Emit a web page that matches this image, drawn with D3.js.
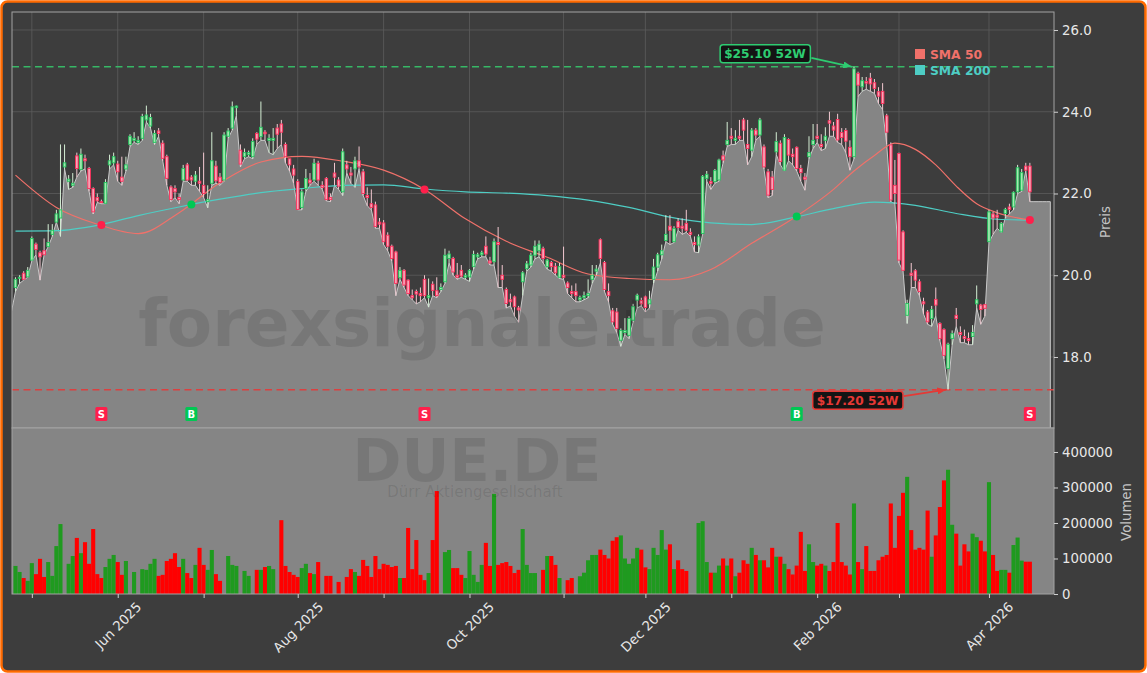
<!DOCTYPE html>
<html>
<head>
<meta charset="utf-8">
<script src="https://cdn.jsdelivr.net/npm/d3@7"></script>
<style>
  body { margin: 0; background: #fff; }
  svg { display: block; font-family: "DejaVu Sans", sans-serif; }
</style>
</head>
<body>
<svg id="chart" width="1147" height="673"></svg>
<script>
// ---- daily candles (trading days from 25 Apr 2025) ----
var opens = [19.70,19.93,20.05,19.96,20.37,20.76,20.55,20.60,20.70,21.00,
  21.30,21.40,22.65,22.30,22.20,22.92,22.59,22.85,22.61,22.12,
  21.90,21.80,21.76,22.70,22.75,22.72,22.40,22.60,23.20,23.30,
  23.25,23.35,23.80,23.65,23.25,23.53,23.23,22.90,22.16,22.12,
  21.90,22.33,22.70,22.40,22.30,22.30,22.20,21.80,22.25,22.67,
  22.40,22.33,23.40,23.60,24.10,23.06,22.90,22.95,22.90,23.47,
  23.39,23.50,23.30,23.30,23.60,23.70,23.20,22.85,22.60,22.29,
  21.66,22.12,22.33,22.33,22.74,22.20,22.37,21.90,22.50,22.33,
  22.04,22.70,22.50,22.60,22.80,22.53,21.95,21.75,21.72,21.30,
  21.28,20.98,20.71,20.57,19.94,20.12,19.88,19.50,19.60,19.55,
  19.90,19.45,19.78,19.62,19.65,19.84,20.41,20.41,20.00,20.12,
  19.95,19.96,20.21,20.45,20.50,20.71,20.35,20.33,20.80,20.00,
  19.65,19.40,19.47,19.20,19.84,20.16,20.25,20.49,20.60,20.65,
  20.21,20.31,20.22,19.95,20.00,19.81,19.60,19.60,19.40,19.45,
  19.50,19.90,20.10,20.87,20.31,19.60,19.13,19.10,18.41,18.60,
  18.53,18.90,19.39,19.38,19.47,19.30,19.90,20.20,20.50,20.85,
  21.20,20.82,21.31,21.20,21.27,21.05,20.80,20.74,21.02,22.37,
  22.29,22.29,22.33,22.92,23.20,23.40,23.30,23.40,23.80,23.20,
  23.06,23.55,23.43,23.14,22.53,22.40,23.02,23.23,22.57,23.32,
  22.96,23.13,22.61,22.40,22.90,23.20,23.40,23.20,23.30,23.78,
  23.65,23.81,23.49,23.54,23.13,22.90,24.94,24.61,24.74,24.82,
  24.71,24.49,24.50,23.90,23.19,22.20,22.98,21.06,19.02,20.05,
  20.11,19.84,19.35,19.10,18.94,19.41,18.82,18.67,17.72,18.45,
  19.02,18.60,18.50,18.45,18.50,19.30,19.27,19.28,20.82,21.50,
  21.47,21.06,21.51,21.67,21.67,22.04,22.08,22.67,22.67];

var highs = [19.95,20.00,20.10,20.20,20.95,20.80,20.60,20.90,21.25,21.25,
  21.60,23.20,23.20,22.45,22.50,23.00,23.10,22.95,22.65,22.15,
  22.00,21.85,22.35,22.95,23.00,22.80,22.90,22.90,23.45,23.50,
  23.40,23.95,24.15,23.95,23.55,23.60,23.30,22.95,22.20,22.20,
  22.00,22.70,22.75,22.45,22.55,22.65,23.00,22.20,23.50,22.80,
  22.50,23.50,23.60,24.25,24.15,23.20,23.10,23.05,23.35,23.50,
  24.25,23.55,23.45,23.60,23.70,23.80,23.25,22.85,22.70,22.35,
  22.10,22.60,22.50,22.85,22.80,22.30,22.40,22.00,22.75,22.40,
  23.10,22.80,22.65,22.90,23.15,22.60,22.15,22.10,21.80,21.40,
  21.35,21.05,20.75,20.60,20.20,20.15,19.90,19.65,19.65,19.70,
  20.00,19.92,19.85,19.95,19.80,20.65,20.60,20.45,20.30,20.25,
  20.05,20.15,20.60,20.55,20.60,20.95,20.45,20.90,21.18,20.25,
  19.70,19.55,19.50,19.25,20.10,20.35,20.55,20.85,20.85,20.70,
  20.40,20.35,20.30,20.30,20.70,19.85,19.75,19.80,19.50,19.60,
  19.90,20.25,20.25,20.90,20.35,19.80,19.20,19.20,18.70,18.95,
  19.00,19.30,19.55,19.45,19.50,19.62,20.40,20.55,20.75,21.47,
  21.47,21.20,21.40,21.39,21.60,21.15,20.95,21.00,22.45,22.55,
  22.40,22.60,22.85,23.05,23.75,23.60,23.55,23.80,23.85,23.80,
  23.60,23.60,23.85,23.20,22.60,22.55,23.50,23.30,23.45,23.35,
  23.10,23.15,22.70,22.50,23.40,23.70,23.70,23.45,23.62,24.00,
  23.75,23.95,23.60,23.60,23.30,25.10,24.98,24.85,24.85,24.95,
  24.80,24.60,24.70,23.95,23.25,22.82,23.00,21.10,19.40,20.30,
  20.15,19.90,19.45,19.15,19.25,19.70,18.85,18.70,18.35,18.65,
  19.20,18.75,18.67,18.60,18.78,19.75,19.30,19.30,21.60,21.55,
  21.60,21.30,21.65,21.75,22.05,22.70,22.60,22.75,22.75];

var lows = [19.60,19.80,19.88,19.95,20.35,20.50,19.88,20.50,20.70,20.95,
  21.30,20.95,22.60,22.10,22.15,22.40,22.55,22.60,22.05,21.50,
  21.78,21.75,21.75,22.60,22.70,22.30,22.20,22.55,23.15,23.25,
  23.20,23.30,23.75,23.60,23.20,23.40,22.80,22.20,21.80,21.90,
  21.75,22.30,22.30,22.20,22.20,22.05,21.90,21.65,22.20,22.25,
  22.20,22.30,23.35,23.55,23.90,22.65,22.85,22.90,22.85,23.20,
  23.30,23.30,23.00,22.95,23.10,23.20,22.75,22.55,22.25,21.60,
  21.60,22.05,22.20,22.30,22.20,22.10,21.82,21.80,22.20,22.10,
  21.95,22.50,22.25,22.15,22.60,21.95,21.70,21.60,21.15,21.15,
  20.75,20.60,20.35,19.50,19.90,19.70,19.50,19.40,19.30,19.35,
  19.45,19.22,19.50,19.45,19.60,19.80,20.30,20.00,19.90,19.95,
  19.90,19.85,20.15,20.40,20.45,20.45,20.25,20.25,19.70,19.70,
  19.20,19.25,19.00,18.85,19.50,20.10,20.20,20.40,20.45,20.30,
  20.15,20.10,20.00,19.92,19.90,19.55,19.45,19.35,19.35,19.40,
  19.45,19.80,20.00,20.30,19.60,19.35,18.80,18.60,18.26,18.55,
  18.45,18.85,19.20,19.25,19.10,19.20,19.80,20.10,20.40,20.82,
  20.75,20.80,21.10,21.00,21.05,20.95,20.57,20.55,21.00,22.30,
  22.10,22.25,22.30,22.75,23.15,23.20,23.20,23.30,23.30,22.70,
  22.90,23.30,23.40,22.60,21.90,21.95,22.95,22.70,22.55,22.80,
  22.70,22.55,22.30,22.08,22.85,23.10,23.25,23.05,23.10,23.40,
  23.40,23.25,23.20,23.00,22.57,22.85,24.37,24.50,24.55,24.50,
  24.45,24.20,24.05,23.20,21.80,21.75,20.30,20.10,18.82,19.70,
  19.70,19.50,19.05,18.80,18.75,19.00,18.40,17.95,17.20,18.30,
  18.75,18.35,18.35,18.30,18.30,19.20,18.80,19.00,20.80,21.00,
  21.15,21.05,21.40,21.50,21.60,22.00,22.05,22.55,21.80];

var closes = [19.90,19.95,19.90,20.12,20.90,20.63,20.45,20.50,20.80,21.10,
  21.50,21.60,22.75,22.35,22.25,22.61,22.96,22.80,22.12,21.55,
  21.82,21.78,22.27,22.80,22.90,22.53,22.30,22.70,23.40,23.35,
  23.30,23.88,23.92,23.86,23.47,23.47,22.86,22.37,21.85,22.04,
  21.85,22.61,22.33,22.33,22.45,22.25,22.00,21.85,22.80,22.31,
  22.27,23.43,23.53,24.12,24.14,22.72,23.00,23.00,23.27,23.33,
  23.62,23.46,23.35,23.35,23.45,23.50,22.90,22.70,22.45,21.61,
  22.04,22.37,22.26,22.74,22.33,22.15,21.85,21.85,22.40,22.18,
  23.02,22.60,22.45,22.80,22.65,22.00,21.90,21.66,21.19,21.25,
  20.82,20.71,20.41,19.80,20.12,19.76,19.55,19.45,19.54,19.50,
  19.50,19.50,19.63,19.50,19.70,20.49,20.52,20.08,19.95,19.98,
  20.00,20.12,20.51,20.50,20.55,20.52,20.30,20.82,20.75,19.90,
  19.31,19.35,19.23,19.15,20.06,20.28,20.49,20.71,20.76,20.41,
  20.37,20.21,20.06,20.21,19.95,19.70,19.55,19.50,19.45,19.50,
  19.55,20.00,20.15,20.41,19.65,19.50,18.86,18.70,18.65,18.65,
  18.94,19.23,19.51,19.30,19.21,19.40,20.20,20.50,20.60,21.00,
  21.10,21.14,21.17,21.15,21.10,21.00,20.75,20.94,22.42,22.47,
  22.25,22.56,22.82,22.82,23.30,23.35,23.35,23.35,23.55,23.10,
  23.55,23.43,23.80,22.65,21.96,22.10,23.27,22.78,23.37,22.94,
  22.90,22.61,22.51,22.35,23.00,23.30,23.35,23.15,23.40,23.72,
  23.55,23.31,23.37,23.28,22.90,25.05,24.65,24.76,24.70,24.68,
  24.57,24.38,24.20,23.50,21.84,22.00,20.37,20.12,19.31,20.00,
  19.88,19.60,19.30,18.86,19.16,19.27,18.45,18.04,18.31,18.57,
  18.94,18.55,18.45,18.40,18.60,19.40,19.16,19.19,21.55,21.40,
  21.42,21.27,21.61,21.61,22.03,22.63,22.51,22.57,22.04];

// volume in thousands of shares
var volumeK = [79,62,45,37,87,56,99,48,90,51,
  135,197,0,85,107,158,115,146,85,183,
  56,45,76,99,110,90,54,93,0,62,
  0,70,68,85,99,51,54,93,99,115,
  76,99,59,45,82,130,82,68,124,56,
  37,0,107,82,79,0,65,51,0,68,
  68,76,79,70,0,208,79,62,54,48,
  73,85,59,56,90,0,51,51,0,34,
  0,48,70,62,51,96,79,48,107,70,
  85,82,76,79,45,45,186,70,152,54,
  39,59,152,290,0,118,124,73,73,54,
  45,121,54,34,82,144,79,282,82,87,
  90,79,59,68,183,82,59,59,0,68,
  107,107,82,45,0,39,45,0,50,60,
  95,110,110,125,110,100,150,160,165,100,
  85,100,130,125,75,70,130,110,180,125,
  140,70,95,70,65,0,0,200,205,90,
  60,60,80,100,80,100,50,60,95,85,
  130,110,95,95,75,130,105,105,85,70,
  55,80,175,65,140,90,80,85,80,65,
  90,200,90,80,55,255,90,70,135,65,
  65,95,105,110,255,130,220,285,330,180,
  125,130,125,235,105,165,245,320,350,195,
  170,80,140,120,170,160,150,120,315,110,
  65,68,68,60,138,159,94,91,91];

// grey fill continues a little past the candles on both sides
var areaHead = 19.1;
var areaTail = [21.8, 21.8, 21.8, 21.8, 21.8];

// moving averages, read at sampled days
var sma50Idx  = [0,10,20,30,40,50,60,70,80,90,100,110,120,130,140,150,160,170,180,190,200,205,210,215,220,225,230,235,240,248];
var sma50Vals = [22.45,21.66,21.25,21.02,21.53,22.26,22.77,22.91,22.79,22.57,22.10,21.38,20.83,20.44,20.03,19.92,19.89,20.14,20.78,21.38,22.10,22.55,22.93,23.23,23.08,22.70,22.18,21.75,21.53,21.35];
var sma200Idx  = [0,10,20,30,40,50,60,70,80,90,100,110,120,130,140,150,160,170,180,190,200,210,220,230,240,248];
var sma200Vals = [21.08,21.09,21.22,21.46,21.67,21.86,22.02,22.12,22.20,22.21,22.11,22.04,22.01,21.95,21.84,21.66,21.42,21.28,21.24,21.41,21.63,21.79,21.71,21.51,21.37,21.35];

// crossover signals
var sigIdx   = [21, 43, 100, 191, 248];
var sigType  = ["S", "B", "S", "B", "S"];
var sigPrice = [21.23, 21.73, 22.10, 21.44, 21.35];

var high52 = 25.10, high52Idx = 205;
var low52 = 17.20, low52Idx = 228;

var priceTicks = [18, 20, 22, 24, 26];
var volTicks = [0, 100000, 200000, 300000, 400000];
// weekdays with no row in the data
var noData = ["2025-05-01","2025-09-15","2025-12-25","2025-12-26","2026-01-01","2026-04-03","2026-04-06"];

// ---- layout ----
var W = 1147, H = 673;
var plot = {left: 12, right: 1054, top: 12, mid: 428, bottom: 594};
var bg = "#3d3d3d", grey = "#858585", spine = "#a3a3a3", tickCol = "#e8e8e8";
var c50 = "#f0716a", c200 = "#4ecdc4", upCol = "#22c55e", dnCol = "#ff2d5a";

// trading calendar for the axis
var dates = [];
var day = new Date(Date.UTC(2025, 3, 25));
while (dates.length < closes.length) {
  var wd = day.getUTCDay(), key = day.toISOString().slice(0, 10);
  if (wd > 0 && wd < 6 && noData.indexOf(key) < 0) dates.push(new Date(day));
  day.setUTCDate(day.getUTCDate() + 1);
}
var monthIdx = [];
dates.forEach(function(d, i) {
  if (i > 0 && d.getUTCMonth() != dates[i - 1].getUTCMonth()) monthIdx.push(i);
});

var candles = closes.map(function(c, i) {
  return {i: i, o: opens[i], h: highs[i], l: lows[i], c: c, v: volumeK[i] * 1000};
});

var svg = d3.select("#chart");

svg.append("rect")
    .attr("x", 1.5).attr("y", 1.5)
    .attr("width", W - 3).attr("height", H - 3)
    .attr("rx", 6)
    .attr("fill", bg)
    .attr("stroke", "#ff6a00")
    .attr("stroke-width", 2.5);

var x = d3.scaleLinear().domain([-0.85, 253.9]).range([plot.left, plot.right]);
var y = d3.scaleLinear().domain([16.263, 26.44]).range([plot.mid, plot.top]);
var yv = d3.scaleLinear().domain([0, 467600]).range([plot.bottom, plot.mid]);
var step = x(1) - x(0);

var defs = svg.append("defs");
defs.append("clipPath").attr("id", "clipPrice")
  .append("rect")
    .attr("x", plot.left).attr("y", plot.top)
    .attr("width", plot.right - plot.left).attr("height", plot.mid - plot.top);

function arrow(id, col) {
  defs.append("marker")
      .attr("id", id)
      .attr("viewBox", "0 0 10 8")
      .attr("refX", 10).attr("refY", 4)
      .attr("markerWidth", 9).attr("markerHeight", 7)
      .attr("markerUnits", "userSpaceOnUse")
      .attr("orient", "auto")
    .append("path")
      .attr("d", "M0,0L10,4L0,8Z")
      .attr("fill", col);
}
arrow("arrG", "#2ecc71");
arrow("arrR", "#e53935");

////////// price panel //////////
var price = svg.append("g").attr("clip-path", "url(#clipPrice)");

// grid
price.selectAll(".hgrid")
    .data(priceTicks)
    .enter().append("line")
    .attr("x1", plot.left).attr("x2", plot.right)
    .attr("y1", y).attr("y2", y)
    .attr("stroke", "#5c5c5c").attr("stroke-width", 0.8);

price.selectAll(".vgrid")
    .data(monthIdx)
    .enter().append("line")
    .attr("x1", x).attr("x2", x)
    .attr("y1", plot.top).attr("y2", plot.mid)
    .attr("stroke", "#5c5c5c").attr("stroke-width", 0.8);

// grey area under the lows
var areaPts = [{i: -1, v: areaHead}]
  .concat(candles.map(function(d) { return {i: d.i, v: d.l}; }))
  .concat(areaTail.map(function(v, k) { return {i: candles.length + k, v: v}; }));

price.append("path")
    .datum(areaPts)
    .attr("fill", grey)
    .attr("d", d3.area()
        .x(function(d) { return x(d.i); })
        .y0(plot.mid)
        .y1(function(d) { return y(d.v); }));

price.append("path")
    .datum(areaPts)
    .attr("fill", "none")
    .attr("stroke", "#c9c9c9")
    .attr("stroke-width", 1)
    .attr("d", d3.line()
        .x(function(d) { return x(d.i); })
        .y(function(d) { return y(d.v); }));

// right edge of the area
price.append("line")
    .attr("x1", x(areaPts[areaPts.length - 1].i)).attr("x2", x(areaPts[areaPts.length - 1].i))
    .attr("y1", y(areaTail[areaTail.length - 1])).attr("y2", plot.mid)
    .attr("stroke", "#c9c9c9").attr("stroke-width", 1);

// 52 week lines
price.append("line")
    .attr("x1", plot.left).attr("x2", plot.right)
    .attr("y1", y(high52)).attr("y2", y(high52))
    .attr("stroke", "#37b866").attr("stroke-width", 1.5)
    .attr("stroke-dasharray", "7,4.5");

price.append("line")
    .attr("x1", plot.left).attr("x2", plot.right)
    .attr("y1", y(low52)).attr("y2", y(low52))
    .attr("stroke", "#dc4040").attr("stroke-width", 1.5)
    .attr("stroke-dasharray", "7,4.5");

// moving averages
var smaLine = d3.line()
    .x(function(d) { return x(d[0]); })
    .y(function(d) { return y(d[1]); })
    .curve(d3.curveMonotoneX);

price.append("path")
    .datum(d3.zip(sma200Idx, sma200Vals))
    .attr("fill", "none").attr("stroke", c200).attr("stroke-width", 1.2)
    .attr("d", smaLine);

price.append("path")
    .datum(d3.zip(sma50Idx, sma50Vals))
    .attr("fill", "none").attr("stroke", c50).attr("stroke-width", 1.2)
    .attr("d", smaLine);

// candles
var cg = price.selectAll(".candle")
    .data(candles)
    .enter().append("g");

cg.append("line")
    .attr("x1", function(d) { return x(d.i); })
    .attr("x2", function(d) { return x(d.i); })
    .attr("y1", function(d) { return y(d.h); })
    .attr("y2", function(d) { return y(d.l); })
    .attr("stroke", function(d) { return d.c >= d.o ? "#d4eed4" : "#f2c8d0"; })
    .attr("stroke-width", 1);

cg.append("rect")
    .attr("x", function(d) { return x(d.i) - step * 0.32; })
    .attr("width", step * 0.64)
    .attr("y", function(d) { return y(Math.max(d.o, d.c)); })
    .attr("height", function(d) { return Math.max(1, Math.abs(y(d.o) - y(d.c))); })
    .attr("fill", function(d) { return d.c >= d.o ? "#a6e8b0" : "#f7a6b8"; })
    .attr("stroke", function(d) { return d.c >= d.o ? upCol : dnCol; })
    .attr("stroke-width", 0.9);

// crossover dots and S/B tags
sigIdx.forEach(function(si, k) {
  var col = sigType[k] == "S" ? "#ff1f4b" : "#00c853";
  price.append("circle")
      .attr("cx", x(si)).attr("cy", y(sigPrice[k]))
      .attr("r", 4).attr("fill", col);
  price.append("rect")
      .attr("x", x(si) - 6).attr("y", 407)
      .attr("width", 12).attr("height", 14)
      .attr("rx", 1.5)
      .attr("fill", col);
  price.append("text")
      .attr("x", x(si)).attr("y", 418)
      .attr("text-anchor", "middle")
      .attr("font-size", 10).attr("font-weight", "bold")
      .attr("fill", "#fff")
      .text(sigType[k]);
});

// frame
svg.append("rect")
    .attr("x", plot.left).attr("y", plot.top)
    .attr("width", plot.right - plot.left).attr("height", plot.mid - plot.top)
    .attr("fill", "none").attr("stroke", spine).attr("stroke-width", 1);

// 52W labels with arrows
function tag(label, idx, val, dx, dy, col, markId) {
  var px = x(idx), py = y(val);
  var g = svg.append("g");
  var t = g.append("text")
      .attr("x", px + dx).attr("y", py + dy + 4.5)
      .attr("text-anchor", "middle")
      .attr("font-size", 12.2).attr("font-weight", "bold")
      .attr("fill", col)
      .text(label);
  var b = t.node().getBBox();
  g.insert("rect", "text")
      .attr("x", b.x - 4).attr("y", py + dy - 9)
      .attr("width", b.width + 8).attr("height", 18)
      .attr("rx", 3)
      .attr("fill", "#141414")
      .attr("stroke", col).attr("stroke-width", 1.5);
  g.append("line")
      .attr("x1", b.x + b.width + 5).attr("y1", py + dy + (dy < 0 ? 4 : -4))
      .attr("x2", px - 2).attr("y2", py)
      .attr("stroke", col).attr("stroke-width", 1.8)
      .attr("marker-end", "url(#" + markId + ")");
}
tag("$" + high52.toFixed(2) + " 52W", high52Idx, high52, -89, -13, "#2ecc71", "arrG");
tag("$" + low52.toFixed(2) + " 52W", low52Idx, low52, -90.5, 10.5, "#e53935", "arrR");

// legend
var legend = svg.append("g").attr("transform", "translate(915,49)");
[["SMA 50", c50], ["SMA 200", c200]].forEach(function(e, k) {
  legend.append("rect")
      .attr("x", 0).attr("y", k * 16)
      .attr("width", 10).attr("height", 10)
      .attr("fill", e[1]);
  legend.append("text")
      .attr("x", 15).attr("y", k * 16 + 9.5)
      .attr("font-size", 12.3).attr("font-weight", "bold")
      .attr("fill", e[1])
      .text(e[0]);
});

////////// volume panel //////////
svg.append("rect")
    .attr("x", plot.left).attr("y", plot.mid)
    .attr("width", plot.right - plot.left).attr("height", plot.bottom - plot.mid)
    .attr("fill", grey);

svg.append("g").selectAll("rect")
    .data(candles)
    .enter().append("rect")
    .attr("x", function(d) { return x(d.i) - step / 2; })
    .attr("width", step)
    .attr("y", function(d) { return yv(d.v); })
    .attr("height", function(d) { return plot.bottom - yv(d.v); })
    .attr("fill", function(d) { return d.c >= d.o ? "#1f9a1f" : "#ff0000"; });

svg.append("rect")
    .attr("x", plot.left).attr("y", plot.mid)
    .attr("width", plot.right - plot.left).attr("height", plot.bottom - plot.mid)
    .attr("fill", "none").attr("stroke", spine).attr("stroke-width", 1);

////////// axes //////////
function styleAxis(g) {
  g.select(".domain").remove();
  g.selectAll("line").attr("stroke", "#d0d0d0");
  g.selectAll("text").attr("fill", tickCol).attr("font-size", 13.3).attr("font-family", "DejaVu Sans");
}

svg.append("g")
    .attr("transform", "translate(" + plot.right + ",0)")
    .call(d3.axisRight(y).tickValues(priceTicks).tickFormat(d3.format(".1f")).tickSize(4).tickPadding(4))
    .call(styleAxis);

svg.append("g")
    .attr("transform", "translate(" + plot.right + ",0)")
    .call(d3.axisRight(yv).tickValues(volTicks).tickFormat(d3.format("d")).tickSize(4).tickPadding(4))
    .call(styleAxis);

var fmt = d3.utcFormat("%b %Y");
var xAxis = svg.append("g")
    .attr("transform", "translate(0," + plot.bottom + ")")
    .call(d3.axisBottom(x).tickValues(monthIdx).tickSize(4)
      .tickFormat(function(i) { return dates[i].getUTCMonth() % 2 == 1 ? fmt(dates[i]) : ""; }))
    .call(styleAxis);

xAxis.selectAll("text")
    .attr("x", 0).attr("y", 0).attr("dy", "0.35em")
    .attr("text-anchor", "middle")
    .attr("transform", function() {
      var L = this.getComputedTextLength();
      return "translate(0," + (6 + (L + 13) * 0.707 / 2) + ") rotate(-45)";
    });

svg.append("text")
    .attr("transform", "translate(1110,222) rotate(-90)")
    .attr("text-anchor", "middle")
    .attr("font-size", 13.3).attr("fill", "#c4c4c4")
    .text("Preis");

svg.append("text")
    .attr("transform", "translate(1131,512) rotate(-90)")
    .attr("text-anchor", "middle")
    .attr("font-size", 13.3).attr("fill", "#c4c4c4")
    .text("Volumen");

////////// watermarks //////////
var wm = svg.append("g").attr("pointer-events", "none").attr("fill", "#000").attr("fill-opacity", 0.1);
wm.append("text")
    .attr("x", 482).attr("y", 346)
    .attr("text-anchor", "middle")
    .attr("font-size", 66).attr("font-weight", "bold")
    .text("forexsignale.trade");
wm.append("text")
    .attr("x", 477).attr("y", 481)
    .attr("text-anchor", "middle")
    .attr("font-size", 59).attr("font-weight", "bold")
    .text("DUE.DE");
wm.append("text")
    .attr("x", 475).attr("y", 497)
    .attr("text-anchor", "middle")
    .attr("font-size", 15)
    .text("Dürr Aktiengesellschaft");
</script>
</body>
</html>
